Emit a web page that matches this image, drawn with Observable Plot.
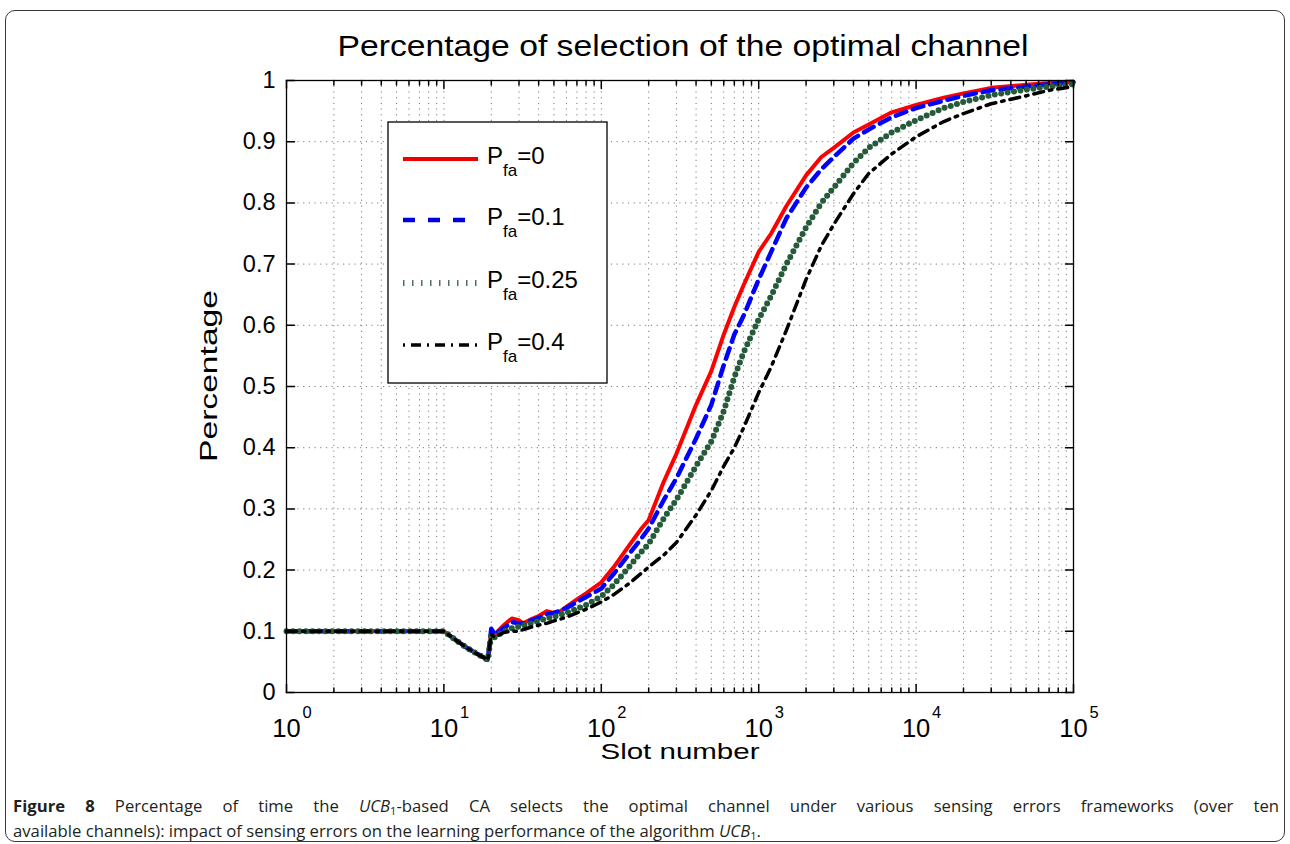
<!DOCTYPE html>
<html><head><meta charset="utf-8">
<script src="https://cdn.jsdelivr.net/npm/d3@7"></script>
<script src="https://cdn.jsdelivr.net/npm/@observablehq/plot@0.6"></script>
<style>
body{margin:0;background:#fff;width:1290px;height:844px;position:relative;overflow:hidden;font-family:"Liberation Sans",Arial,sans-serif}
#frame{position:absolute;left:5px;top:10px;width:1280px;height:832px;border:1.5px solid #3a3a3a;border-radius:10px;box-sizing:border-box}
#chart{position:absolute;left:0;top:0}
#caption{position:absolute;left:13px;top:793px;width:1266px;font-family:"Open Sans",sans-serif;font-size:16.7px;line-height:25px;color:#231f20}
#caption .l1{text-align:justify;text-align-last:justify;white-space:nowrap}
#caption .l2{text-align:left;white-space:nowrap}
#caption sub{font-size:11px;line-height:0;vertical-align:-3px}
</style></head><body>
<div id="frame"></div>
<div id="chart"></div>
<div id="caption"><div class="l1"><b>Figure 8</b> Percentage of time the <i>UCB</i><sub>1</sub>-based CA selects the optimal channel under various sensing errors frameworks (over ten</div><div class="l2">available channels): impact of sensing errors on the learning performance of the algorithm <i>UCB</i><sub>1</sub>.</div></div>
<script>
// ---- data ----
const slots = [1, 2, 5, 10, 12, 14, 16, 18, 19, 20, 21, 24, 27, 30, 32, 36, 40, 45, 50, 55, 60, 70, 80, 100, 120, 150, 180, 200, 250, 300, 400, 500, 600, 700, 800, 1000, 1200, 1500, 2000, 2500, 3000, 4000, 5000, 7000, 10000, 15000, 20000, 30000, 50000, 70000, 100000];
const pfa0   = [0.1, 0.1, 0.1, 0.1, 0.085, 0.073, 0.064, 0.057, 0.053, 0.1, 0.095, 0.11, 0.121, 0.118, 0.113, 0.12, 0.125, 0.133, 0.13, 0.133, 0.14, 0.152, 0.162, 0.18, 0.205, 0.24, 0.268, 0.282, 0.345, 0.39, 0.47, 0.525, 0.585, 0.63, 0.665, 0.72, 0.75, 0.795, 0.845, 0.875, 0.89, 0.915, 0.928, 0.948, 0.96, 0.972, 0.979, 0.988, 0.993, 0.996, 0.998];
const pfa01  = [0.1, 0.1, 0.1, 0.1, 0.085, 0.073, 0.064, 0.057, 0.053, 0.104, 0.095, 0.105, 0.115, 0.113, 0.113, 0.118, 0.122, 0.128, 0.13, 0.134, 0.138, 0.148, 0.156, 0.17, 0.194, 0.226, 0.252, 0.268, 0.315, 0.35, 0.415, 0.47, 0.535, 0.585, 0.615, 0.675, 0.72, 0.775, 0.825, 0.855, 0.875, 0.905, 0.92, 0.94, 0.955, 0.967, 0.975, 0.984, 0.99, 0.994, 0.997];
const pfa025 = [0.1, 0.1, 0.1, 0.1, 0.085, 0.073, 0.064, 0.057, 0.053, 0.095, 0.09, 0.1, 0.105, 0.108, 0.11, 0.113, 0.117, 0.121, 0.124, 0.127, 0.13, 0.137, 0.143, 0.157, 0.176, 0.205, 0.23, 0.243, 0.285, 0.315, 0.37, 0.41, 0.46, 0.515, 0.555, 0.61, 0.648, 0.7, 0.76, 0.8, 0.825, 0.865, 0.89, 0.915, 0.935, 0.955, 0.965, 0.976, 0.985, 0.99, 0.994];
const pfa04  = [0.1, 0.1, 0.1, 0.1, 0.085, 0.073, 0.064, 0.057, 0.053, 0.095, 0.09, 0.098, 0.1, 0.1, 0.103, 0.107, 0.11, 0.113, 0.117, 0.12, 0.123, 0.13, 0.136, 0.148, 0.16, 0.178, 0.195, 0.205, 0.225, 0.245, 0.29, 0.33, 0.37, 0.4, 0.432, 0.49, 0.532, 0.592, 0.675, 0.73, 0.765, 0.815, 0.848, 0.88, 0.908, 0.933, 0.946, 0.962, 0.975, 0.984, 0.99];
const seriesLabels = ["=0", "=0.1", "=0.25", "=0.4"];
const yTicks = [0, 0.1, 0.2, 0.3, 0.4, 0.5, 0.6, 0.7, 0.8, 0.9, 1];
const xDecades = [0, 1, 2, 3, 4, 5];
const titleText = "Percentage of selection of the optimal channel";
const xLabel = "Slot number";
const yLabel = "Percentage";

// ---- derived tables ----
const xMajor = xDecades.map(d => 10 ** d);
const xMinor = xDecades.slice(0, -1).flatMap(d => [2,3,4,5,6,7,8,9].map(m => m * 10 ** d));
const yGrid = yTicks.filter(v => v > 0 && v < 1);
const rows = vals => slots.map((s, i) => ({slot: s, value: vals[i]}));

const styles = [
  {stroke: "#ff0000", strokeWidth: 4},
  {stroke: "#0000ff", strokeWidth: 4.5, strokeDasharray: "11,7"},
  {stroke: "#255a3a", strokeWidth: 6, strokeDasharray: "0,6.5", strokeLinecap: "round"},
  {stroke: "#000000", strokeWidth: 3.5, strokeDasharray: "10,6,2.5,6"}
];
const series = [pfa0, pfa01, pfa025, pfa04];

const up = {draw(c, l) { c.moveTo(0, 0); c.lineTo(0, -l); }};
const down = {draw(c, l) { c.moveTo(0, 0); c.lineTo(0, l); }};
const right = {draw(c, l) { c.moveTo(0, 0); c.lineTo(l, 0); }};
const left = {draw(c, l) { c.moveTo(0, 0); c.lineTo(-l, 0); }};

const W = 1290, H = 780;
const chart = Plot.plot({
  width: W, height: H,
  marginLeft: 286, marginRight: 217, marginTop: 80, marginBottom: 88,
  x: {type: "log", domain: [1, 1e5], axis: null},
  y: {domain: [0, 1], axis: null},
  style: {fontFamily: "'Liberation Sans', Arial, sans-serif", background: "transparent", overflow: "visible", color: "black"},
  marks: [
    Plot.ruleX(xMinor.concat(xMajor.slice(1, -1)), {stroke: "#7a7a7a", strokeWidth: 1, strokeDasharray: "1.2,4.5"}),
    Plot.ruleY(yGrid, {stroke: "#7a7a7a", strokeWidth: 1, strokeDasharray: "1.2,4.5"}),
    ...series.map((s, i) => Plot.line(rows(s), {x: "slot", y: "value", ...styles[i]})),
    Plot.vector(xMajor, {x: d => d, frameAnchor: "bottom", length: 8, anchor: "start", shape: up, stroke: "black"}),
    Plot.vector(xMinor, {x: d => d, frameAnchor: "bottom", length: 4.5, anchor: "start", shape: up, stroke: "black"}),
    Plot.vector(xMajor, {x: d => d, frameAnchor: "top", length: 8, anchor: "start", shape: down, stroke: "black"}),
    Plot.vector(xMinor, {x: d => d, frameAnchor: "top", length: 4.5, anchor: "start", shape: down, stroke: "black"}),
    Plot.vector(yTicks, {y: d => d, frameAnchor: "left", length: 8, anchor: "start", shape: right, stroke: "black"}),
    Plot.vector(yTicks, {y: d => d, frameAnchor: "right", length: 8, anchor: "start", shape: left, stroke: "black"}),
    Plot.frame({stroke: "black", strokeWidth: 1.3}),
    Plot.text(yTicks, {y: d => d, frameAnchor: "left", dx: -11, textAnchor: "end", lineAnchor: "middle", text: d => d3.format("~g")(d), fontSize: 23.5, fill: "black"}),
    Plot.text(xDecades, {x: d => 10 ** d, frameAnchor: "bottom", dy: 44, lineAnchor: "bottom", textAnchor: "middle", text: () => "10", fontSize: 25.5, fill: "black"}),
    Plot.text(xDecades, {x: d => 10 ** d, frameAnchor: "bottom", dx: 16, dy: 25, lineAnchor: "bottom", textAnchor: "start", text: d => String(d), fontSize: 16.5, fill: "black"})
  ]
});
document.getElementById("chart").appendChild(chart);

const svg = d3.select(chart);
const font = "'Liberation Sans', Arial, sans-serif";
svg.append("text").attr("x", 683).attr("y", 56).attr("text-anchor", "middle")
  .attr("font-family", font).attr("font-size", 29).attr("textLength", 691).attr("lengthAdjust", "spacingAndGlyphs")
  .attr("fill", "black").text(titleText);
svg.append("text").attr("x", 680).attr("y", 759).attr("text-anchor", "middle")
  .attr("font-family", font).attr("font-size", 22).attr("textLength", 159).attr("lengthAdjust", "spacingAndGlyphs")
  .attr("fill", "black").text(xLabel);
svg.append("text").attr("transform", "translate(217,376) rotate(-90)").attr("text-anchor", "middle")
  .attr("font-family", font).attr("font-size", 24).attr("textLength", 172).attr("lengthAdjust", "spacingAndGlyphs")
  .attr("fill", "black").text(yLabel);

// legend
const lg = svg.append("g");
lg.append("rect").attr("x", 388).attr("y", 122).attr("width", 219).attr("height", 261)
  .attr("fill", "white").attr("stroke", "black").attr("stroke-width", 1.3);
const rowY = [159, 220, 283, 345];
const legendStyles = [
  {stroke: "#ee0000", "stroke-width": 4},
  {stroke: "#0000dd", "stroke-width": 4.5, "stroke-dasharray": "12,13"},
  {stroke: "#55705f", "stroke-width": 6, "stroke-dasharray": "1.5,7.5"},
  {stroke: "#000", "stroke-width": 3.5, "stroke-dasharray": "2,6,10,6"}
];
seriesLabels.forEach((lab, i) => {
  const l = lg.append("line").attr("x1", 403).attr("x2", 478).attr("y1", rowY[i]).attr("y2", rowY[i]);
  Object.entries(legendStyles[i]).forEach(([k, v]) => l.attr(k, v));
  const t = lg.append("text").attr("x", 487).attr("y", rowY[i] + 5).attr("font-family", font)
    .attr("text-anchor", "start").attr("font-size", 24).attr("fill", "black");
  t.append("tspan").text("P");
  t.append("tspan").attr("dy", 12).attr("font-size", 17).text("fa");
  t.append("tspan").attr("dy", -12).text(lab);
});
</script>
</body></html>
